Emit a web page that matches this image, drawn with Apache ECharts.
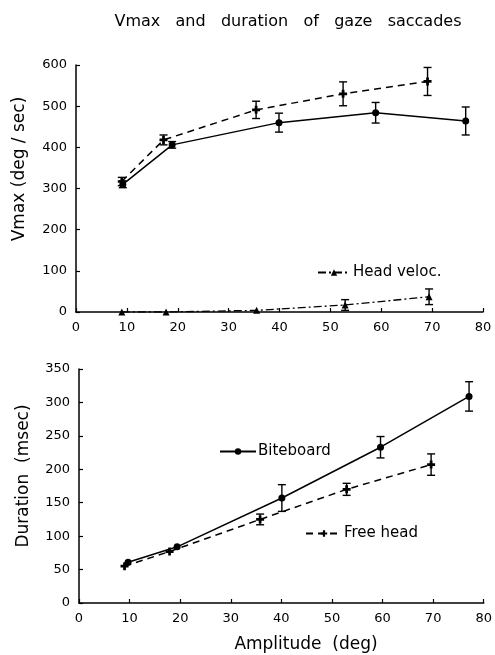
<!DOCTYPE html>
<html>
<head>
<meta charset="utf-8">
<script src="https://cdn.jsdelivr.net/npm/echarts@6/dist/echarts.min.js"></script>
<style>html,body{margin:0;padding:0;background:#fff}#c{width:495px;height:655px}</style>
</head>
<body>
<div id="c"></div>
<script>
// ---- Data ----
var xTicks = [0, 10, 20, 30, 40, 50, 60, 70, 80];

// Top panel: Vmax (deg/sec)
var vmaxBiteX = [9.2, 18.9, 39.9, 58.9, 76.6];
var vmaxBiteY = [310, 406, 460, 484, 464];
var vmaxBiteErr = [8, 8, 23, 25, 34];

var vmaxFreeX = [9.0, 17.2, 35.4, 52.5, 69.1];
var vmaxFreeY = [317, 418, 491, 530, 560];
var vmaxFreeErr = [10, 12, 21, 29, 34];

var headVelX = [9.0, 17.7, 35.5, 52.9, 69.4];
var headVelY = [0, 0, 4, 17, 37];
var headVelErr = [0, 0, 0, 13, 19];

// Bottom panel: Duration (msec)
var durBiteX = [9.7, 19.4, 40.1, 59.6, 77.1];
var durBiteY = [61, 84, 157, 233, 309];
var durBiteErr = [0, 0, 20, 16, 22];

var durFreeX = [9.0, 17.9, 35.8, 52.9, 69.6];
var durFreeY = [55, 77, 125, 170, 207];
var durFreeErr = [0, 0, 8, 9, 16];

// ---- Helpers ----
function pts(xs, ys) { return xs.map(function (x, i) { return [x, ys[i]]; }); }
function errPts(xs, ys, es) { return xs.map(function (x, i) { return [x, ys[i], es[i]]; }); }

function errSeries(xi, yi, data) {
  return {
    type: 'custom', xAxisIndex: xi, yAxisIndex: yi, silent: true, z: 3,
    data: data,
    encode: { x: 0, y: 1 },
    renderItem: function (params, api) {
      var x = api.value(0), y = api.value(1), e = api.value(2);
      if (!e) return null;
      var t = api.coord([x, y + e]);
      var b = api.coord([x, y - e]);
      var w = 4;
      var st = { stroke: '#000', lineWidth: 1.4 };
      return {
        type: 'group',
        children: [
          { type: 'line', shape: { x1: t[0], y1: t[1], x2: b[0], y2: b[1] }, style: st },
          { type: 'line', shape: { x1: t[0] - w, y1: t[1], x2: t[0] + w, y2: t[1] }, style: st },
          { type: 'line', shape: { x1: b[0] - w, y1: b[1], x2: b[0] + w, y2: b[1] }, style: st }
        ]
      };
    }
  };
}

var FONT = 'DejaVu Sans';
var plusSym = 'path://M-1.2,-3.5 L1.2,-3.5 L1.2,-1.2 L3.5,-1.2 L3.5,1.2 L1.2,1.2 L1.2,3.5 L-1.2,3.5 L-1.2,1.2 L-3.5,1.2 L-3.5,-1.2 L-1.2,-1.2 Z';

function xAxisCfg(gi) {
  return {
    type: 'value', gridIndex: gi, min: 0, max: 80, interval: 10,
    axisLine: { onZero: false, lineStyle: { color: '#000', width: 1.5 } },
    axisTick: { inside: true, length: 4, lineStyle: { color: '#000', width: 1.2 } },
    axisLabel: { color: '#000', fontSize: 13, fontFamily: FONT, margin: 9 },
    splitLine: { show: false }
  };
}
function yAxisCfg(gi, max, interval) {
  return {
    type: 'value', gridIndex: gi, min: 0, max: max, interval: interval,
    axisLine: { show: true, lineStyle: { color: '#000', width: 1.5 } },
    axisTick: { show: true, inside: true, length: 4, lineStyle: { color: '#000', width: 1.2 } },
    axisLabel: { color: '#000', fontSize: 13, fontFamily: FONT, margin: 9 },
    splitLine: { show: false }
  };
}
function label(text, x, y, size, rot) {
  return {
    type: 'text', x: x, y: y, rotation: rot || 0,
    style: { text: text, fill: '#000', fontSize: size, fontFamily: FONT, align: 'center', verticalAlign: 'middle' }
  };
}

var chart = echarts.init(document.getElementById('c'), null, { renderer: 'canvas' });
var option = {
  backgroundColor: '#fff',
  animation: false,
  graphic: [
    label('Vmax   and   duration   of   gaze   saccades', 288, 22, 16),
    label('Vmax (deg / sec)', 20, 169, 17, Math.PI / 2),
    label('Duration  (msec)', 24, 476, 17, Math.PI / 2),
    label('Amplitude  (deg)', 306, 645, 17)
  ],
  legend: [
    { data: ['Head veloc.'], left: 312, top: 260, itemWidth: 32, itemHeight: 8, itemGap: 4,
      textStyle: { color: '#000', fontSize: 15, fontFamily: FONT, padding: [0, 0, 0, -2] } },
    { data: ['Biteboard'], left: 214, top: 439, itemWidth: 36, itemHeight: 8,
      textStyle: { color: '#000', fontSize: 15, fontFamily: FONT, padding: [0, 0, 0, -3] } },
    { data: ['Free head'], left: 300, top: 521, itemWidth: 36, itemHeight: 8,
      textStyle: { color: '#000', fontSize: 15, fontFamily: FONT, padding: [0, 0, 0, -3] } }
  ],
  grid: [
    { left: 76, right: 12, top: 65, bottom: 343 },
    { left: 79, right: 10, top: 369, bottom: 52 }
  ],
  xAxis: [xAxisCfg(0), xAxisCfg(1)],
  yAxis: [yAxisCfg(0, 600, 100), yAxisCfg(1, 350, 50)],
  series: [
    { name: 'Biteboard', type: 'line', xAxisIndex: 0, yAxisIndex: 0, data: pts(vmaxBiteX, vmaxBiteY),
      symbol: 'circle', symbolSize: 7, itemStyle: { color: '#000' }, lineStyle: { color: '#000', width: 1.5 } },
    { name: 'Free head', type: 'line', xAxisIndex: 0, yAxisIndex: 0, data: pts(vmaxFreeX, vmaxFreeY),
      symbol: plusSym, symbolSize: 8, itemStyle: { color: '#000' }, lineStyle: { color: '#000', width: 1.5, type: [7, 5] } },
    { name: 'Head veloc.', type: 'line', xAxisIndex: 0, yAxisIndex: 0, data: pts(headVelX, headVelY),
      symbol: 'triangle', symbolSize: 7, itemStyle: { color: '#000' }, lineStyle: { color: '#000', width: 1.3, type: [8, 3, 2, 3] } },
    errSeries(0, 0, errPts(vmaxBiteX, vmaxBiteY, vmaxBiteErr)),
    errSeries(0, 0, errPts(vmaxFreeX, vmaxFreeY, vmaxFreeErr)),
    errSeries(0, 0, errPts(headVelX, headVelY, headVelErr)),
    { name: 'Biteboard', type: 'line', xAxisIndex: 1, yAxisIndex: 1, data: pts(durBiteX, durBiteY),
      symbol: 'circle', symbolSize: 7, itemStyle: { color: '#000' }, lineStyle: { color: '#000', width: 1.5 } },
    { name: 'Free head', type: 'line', xAxisIndex: 1, yAxisIndex: 1, data: pts(durFreeX, durFreeY),
      symbol: plusSym, symbolSize: 8, itemStyle: { color: '#000' }, lineStyle: { color: '#000', width: 1.5, type: [7, 5] } },
    errSeries(1, 1, errPts(durBiteX, durBiteY, durBiteErr)),
    errSeries(1, 1, errPts(durFreeX, durFreeY, durFreeErr))
  ]
};
chart.setOption(option);
</script>
</body>
</html>
